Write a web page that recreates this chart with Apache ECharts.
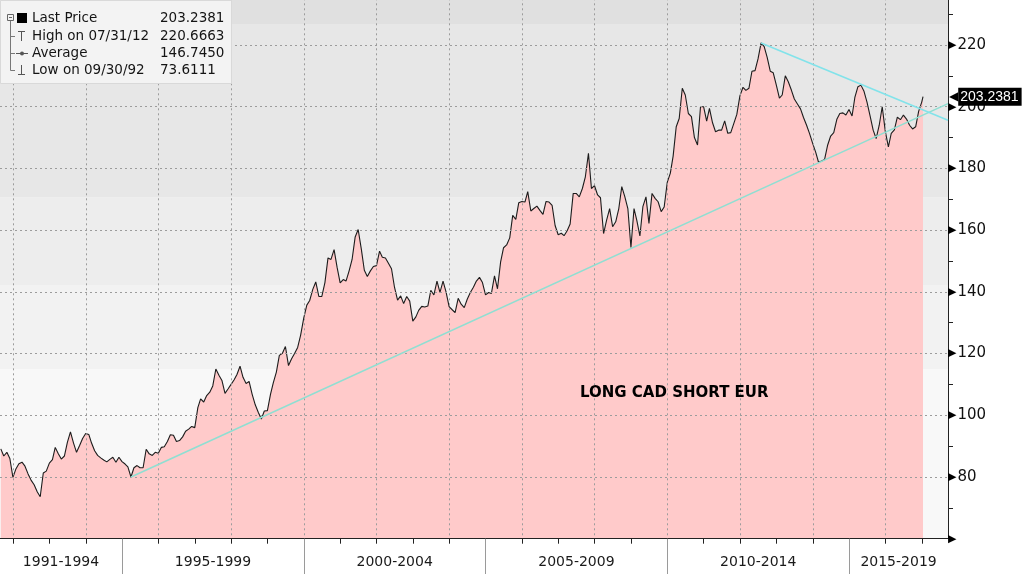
<!DOCTYPE html>
<html><head><meta charset="utf-8">
<script src="https://cdn.jsdelivr.net/npm/echarts@6/dist/echarts.min.js"></script>
<style>html,body{margin:0;padding:0;background:#fff}#c{width:1024px;height:574px}</style>
</head><body><div id="c"></div>
<script>
// ---------- DATA ----------
// Monthly closes, month-end from Aug 1991; last value is the last price (Jan 2017)
const firstMonth = [1991, 8];
const lastDate = '2017-01-13';
const v1991_1994 = [89.1, 86.8, 88.0, 86.0, 79.9,
  82.7, 84.3, 84.8, 83.5, 81.0, 79.0, 77.5, 75.2, 73.6111, 81.3, 81.9, 84.5,
  85.6, 89.6, 87.5, 85.8, 86.8, 91.2, 94.6, 91.0, 88.0, 90.2, 92.5, 94.1,
  93.8, 91.0, 88.5, 87.0, 86.2, 85.5, 84.9, 85.7, 86.4, 84.8, 86.4, 85.0];
const v1995_1999 = [84.2, 83.3, 80.0, 83.0, 83.7, 83.0, 83.0, 89.0, 87.5, 87.0, 88.0, 87.7,
  89.6, 89.8, 91.5, 93.7, 93.5, 91.5, 91.8, 93.0, 94.8, 95.5, 96.4, 96.0,
  102.5, 105.3, 104.3, 106.4, 107.5, 109.5, 115.0, 113.0, 111.3, 107.1, 108.5, 110.0,
  111.5, 113.2, 115.9, 112.3, 110.3, 111.0, 106.8, 103.4, 101.0, 98.8, 101.4, 101.5,
  106.8, 110.5, 114.0, 119.4, 120.1, 122.3, 116.1, 118.3, 120.0, 122.0, 126.0, 131.5];
const v2000_2004 = [135.7, 137.2, 140.8, 143.2, 138.5, 138.5, 143.0, 151.0, 150.5, 153.7, 148.0, 142.9,
  144.0, 143.5, 146.8, 150.5, 157.8, 160.2, 154.0, 147.0, 145.0, 146.8, 148.2, 148.5,
  153.2, 151.2, 151.0, 149.3, 147.5, 141.5, 137.3, 138.7, 136.2, 138.5, 137.0, 130.5,
  131.9, 134.0, 135.3, 135.1, 135.4, 140.5, 139.0, 143.5, 139.8, 143.5, 140.0, 135.2,
  134.2, 133.3, 137.9, 136.0, 134.9, 137.6, 139.8, 141.5, 143.5, 144.7, 143.0, 139.0];
const v2005_2009 = [139.8, 139.5, 145.2, 141.0, 149.6, 154.3, 155.2, 157.5, 164.8, 163.5, 168.9, 169.3,
  169.1, 172.5, 166.2, 167.0, 167.8, 166.4, 165.1, 169.3, 169.1, 168.0, 161.5, 158.5,
  159.0, 158.2, 159.8, 162.0, 171.9, 171.9, 170.8, 173.5, 177.3, 184.9, 173.5, 174.4,
  171.4, 170.5, 158.9, 163.2, 167.0, 161.1, 162.7, 167.0, 174.1, 170.8, 167.0, 154.4,
  167.0, 163.2, 158.1, 167.6, 170.8, 162.2, 171.9, 170.3, 169.2, 166.0, 167.5, 175.5];
const v2010_2014 = [178.5, 184.0, 193.5, 196.2, 206.0, 203.8, 197.8, 196.8, 190.0, 187.6, 200.0, 200.0,
  195.3, 199.5, 194.8, 191.9, 192.4, 192.4, 195.4, 191.4, 191.6, 194.6, 197.5, 203.5,
  206.3, 205.3, 206.0, 211.5, 211.7, 215.5, 220.6663, 219.5, 216.0, 211.5, 211.0, 207.0,
  202.8, 203.8, 210.0, 208.1, 205.4, 202.5, 200.9, 199.3, 196.5, 194.0, 191.3, 188.1,
  185.2, 182.0, 182.4, 182.9, 187.6, 190.5, 191.6, 195.9, 197.8, 198.0, 197.3, 199.1];
const v2015_2019 = [197.0, 203.0, 206.5, 207.0, 205.0, 201.5, 197.0, 192.4, 189.7, 194.0, 200.0, 192.0,
  187.0, 191.4, 192.5, 196.6, 195.8, 197.3, 196.0, 194.0, 192.8, 193.5, 198.5, 201.5,
  203.2381];

// trend lines (date, value) end points
const trendUp = [['1995-03-31', 80.0], ['2017-09-21', 201.0]];
const trendDown = [['2012-07-31', 220.6663], ['2017-09-21', 195.6]];

// axis texts / ticks
const yearTicks = ['1992','1993','1994','1995','1996','1997','1998','1999','2000','2001','2002','2003','2004',
  '2005','2006','2007','2008','2009','2010','2011','2012','2013','2014','2015','2016','2017'];
const gridYears = ['1992','1994','1996','1998','2000','2002','2004','2006','2008','2010','2012','2014','2016'];
const periodBounds = ['1995','2000','2005','2010','2015'];
const periodLabels = ['1991-1994','1995-1999','2000-2004','2005-2009','2010-2014','2015-2019'];
const periodCenters = ['1993-04-27','1997-07-02','2002-07-02','2007-07-02','2012-07-02','2016-05-12'];
const lastPrice = 203.2381;
const legendRows = [['Last Price','203.2381'],['High on 07/31/12','220.6663'],['Average','146.7450'],['Low on 09/30/92','73.6111']];
const noteText = 'LONG CAD SHORT EUR';

// background bands (value ranges) and colours
const bandEdges = [60, 115, 142.2, 170.7, 226.8, 240];
const bandColors = ['#f8f8f8', '#f2f2f2', '#ededed', '#e7e7e7', '#e0e0e0'];

// ---------- BUILD ----------
const values = [].concat(v1991_1994, v1995_1999, v2000_2004, v2005_2009, v2010_2014, v2015_2019);
const pad = n => (n < 10 ? '0' : '') + n;
const dates = values.map((_, i) => {
  const d = new Date(Date.UTC(firstMonth[0], firstMonth[1] - 1 + i + 1, 0));
  return d.getUTCFullYear() + '-' + pad(d.getUTCMonth() + 1) + '-' + pad(d.getUTCDate());
});
dates[dates.length - 1] = lastDate;

const P = s => echarts.number.parseDate(s).getTime();
const seriesData = dates.map((d, i) => [P(d), values[i]]);
const trendUpData = trendUp.map(p => [P(p[0]), p[1]]);
const trendDownData = trendDown.map(p => [P(p[0]), p[1]]);
const xMin = P('1991-08-23'), xMax = P('2017-09-21');
const yearTs = yearTicks.map(y => P(y + '-01-01'));
const gridTs = gridYears.map(y => P(y + '-01-01'));
const boundTs = periodBounds.map(y => P(y + '-01-01'));
const centerTs = periodCenters.map(P);

const FONT = '"DejaVu Sans", "Liberation Sans", sans-serif';
const gridBox = {left: 0, right: 76, top: -16.7, bottom: 35.3, containLabel: false, outerBoundsMode: 'none'};

const bands = [];
for (let i = 0; i < bandColors.length; i++) {
  bands.push([{yAxis: bandEdges[i], itemStyle: {color: bandColors[i]}}, {yAxis: bandEdges[i + 1]}]);
}

const legendGraphic = [
  {type: 'rect', shape: {x: 0.5, y: 0.5, width: 231, height: 83}, style: {fill: '#f3f3f3', stroke: '#d9d9d9', lineWidth: 1}, z: 100},
  {type: 'rect', shape: {x: 7.5, y: 14.5, width: 6, height: 6}, style: {fill: 'none', stroke: '#666', lineWidth: 1}, z: 101},
  {type: 'line', shape: {x1: 9, y1: 17.5, x2: 12, y2: 17.5}, style: {stroke: '#666', lineWidth: 1}, z: 101},
  {type: 'rect', shape: {x: 17, y: 13, width: 10, height: 10}, style: {fill: '#000'}, z: 101},
  {type: 'line', shape: {x1: 10.5, y1: 21, x2: 10.5, y2: 70.5}, style: {stroke: '#777', lineWidth: 1}, z: 101},
  {type: 'line', shape: {x1: 10.5, y1: 36.5, x2: 15, y2: 36.5}, style: {stroke: '#777', lineWidth: 1}, z: 101},
  {type: 'line', shape: {x1: 10.5, y1: 53.5, x2: 15, y2: 53.5}, style: {stroke: '#777', lineWidth: 1}, z: 101},
  {type: 'line', shape: {x1: 10.5, y1: 70.5, x2: 15, y2: 70.5}, style: {stroke: '#777', lineWidth: 1}, z: 101},
  {type: 'line', shape: {x1: 18, y1: 31.5, x2: 25, y2: 31.5}, style: {stroke: '#555', lineWidth: 1}, z: 101},
  {type: 'line', shape: {x1: 21.5, y1: 31.5, x2: 21.5, y2: 41}, style: {stroke: '#555', lineWidth: 1}, z: 101},
  {type: 'line', shape: {x1: 16, y1: 53.5, x2: 28, y2: 53.5}, style: {stroke: '#555', lineWidth: 1}, z: 101},
  {type: 'circle', shape: {cx: 22, cy: 53.5, r: 2}, style: {fill: '#555'}, z: 101},
  {type: 'line', shape: {x1: 21.5, y1: 65, x2: 21.5, y2: 74.5}, style: {stroke: '#555', lineWidth: 1}, z: 101},
  {type: 'line', shape: {x1: 18, y1: 74.5, x2: 25, y2: 74.5}, style: {stroke: '#555', lineWidth: 1}, z: 101}
];
const rowY = [18, 36, 53, 70];
legendRows.forEach((r, i) => {
  legendGraphic.push({type: 'text', x: 32, y: rowY[i], z: 102,
    style: {text: r[0], fill: '#141414', font: '13.5px ' + FONT, verticalAlign: 'middle'}});
  legendGraphic.push({type: 'text', x: 160, y: rowY[i], z: 102,
    style: {text: r[1], fill: '#141414', font: '13.5px ' + FONT, verticalAlign: 'middle'}});
});

const chart = echarts.init(document.getElementById('c'), null, {renderer: 'canvas'});
chart.setOption({
  animation: false,
  backgroundColor: '#ffffff',
  title: {text: noteText, left: 575, top: 381,
    textStyle: {fontFamily: FONT, fontSize: 15, fontWeight: 'bold', color: '#000'}},
  grid: [Object.assign({}, gridBox), Object.assign({}, gridBox), Object.assign({}, gridBox)],
  xAxis: [
    {type: 'value', gridIndex: 0, min: xMin, max: xMax, z: 2, scale: true,
      axisLine: {show: true, onZero: false, lineStyle: {color: '#222', width: 1}},
      axisTick: {show: false, customValues: gridTs},
      axisLabel: {show: false, customValues: gridTs},
      splitLine: {show: true, lineStyle: {color: '#9c9c9c', type: [2, 3], width: 1}}},
    {type: 'value', gridIndex: 1, min: xMin, max: xMax, z: 2, scale: true,
      axisLine: {show: false},
      axisTick: {show: true, customValues: yearTs, length: 5, lineStyle: {color: '#222', width: 1}},
      axisLabel: {show: false, customValues: yearTs},
      splitLine: {show: false}},
    {type: 'value', gridIndex: 2, min: xMin, max: xMax, z: 2, scale: true,
      axisLine: {show: false},
      axisTick: {show: true, customValues: boundTs, length: 36, lineStyle: {color: '#9a9a9a', width: 1}},
      axisLabel: {show: true, customValues: centerTs, margin: 17, fontFamily: FONT, fontSize: 14, color: '#1a1a1a',
        hideOverlap: false,
        formatter: function (val) {
          let best = 0, bd = Infinity;
          centerTs.forEach((c, i) => { const d = Math.abs(c - val); if (d < bd) { bd = d; best = i; } });
          return periodLabels[best];
        }},
      splitLine: {show: false}}
  ],
  yAxis: [
    {type: 'value', gridIndex: 0, position: 'right', min: 60, max: 240, interval: 20, z: 2,
      axisLine: {show: true, onZero: false, lineStyle: {color: '#222', width: 1}},
      axisTick: {show: false},
      minorTick: {show: true, splitNumber: 2, length: 5, lineStyle: {color: '#222', width: 1}},
      splitLine: {show: true, lineStyle: {color: '#9c9c9c', type: [2, 3], width: 1}},
      axisLabel: {margin: 0, showMinLabel: true, showMaxLabel: false,
        formatter: function (v) {
          if (v > 225) return '';
          if (v === 60) return '{t|▶}';
          return '{t|▶}{v|' + v + '}';
        },
        rich: {t: {fontSize: 11, color: '#000', fontFamily: FONT},
          v: {fontSize: 15, color: '#111', fontFamily: FONT, padding: [0, 0, 0, 1]}}}},
    {type: 'value', gridIndex: 1, min: 60, max: 240, show: false},
    {type: 'value', gridIndex: 2, min: 60, max: 240, show: false}
  ],
  series: [
    {name: 'bands', type: 'line', xAxisIndex: 0, yAxisIndex: 0, data: [], z: 0, silent: true,
      markArea: {silent: true, data: bands}},
    {name: 'Last Price', type: 'line', xAxisIndex: 0, yAxisIndex: 0, data: seriesData, z: 1,
      symbol: 'none', smooth: false,
      lineStyle: {color: '#1c1c1c', width: 1.1},
      areaStyle: {color: '#ffcaca', opacity: 1, origin: 'start'}},
    {name: 'trendUp', type: 'line', data: trendUpData, z: 3, symbol: 'none', silent: true,
      lineStyle: {color: '#8fdfd2', width: 1.6}},
    {name: 'trendDown', type: 'line', data: trendDownData, z: 5, symbol: 'none', silent: true,
      lineStyle: {color: '#82e3ea', width: 1.6},
      markLine: {silent: true, symbol: 'none',
        lineStyle: {color: 'rgba(0,0,0,0)', width: 0, opacity: 1},
        data: [{yAxis: lastPrice}],
        label: {show: true, position: 'end', distance: 1, opacity: 1,
          formatter: '{a|◀}{b|' + lastPrice.toFixed(4) + '}',
          rich: {a: {color: '#000', fontSize: 12, fontFamily: FONT, padding: [0, 0, 0, 0]},
            b: {color: '#fff', backgroundColor: '#000', fontSize: 14, fontFamily: '"Liberation Sans", sans-serif',
              padding: [2, 3, 2, 2]}}}}}
  ],
  graphic: legendGraphic
});
</script>
</body></html>
